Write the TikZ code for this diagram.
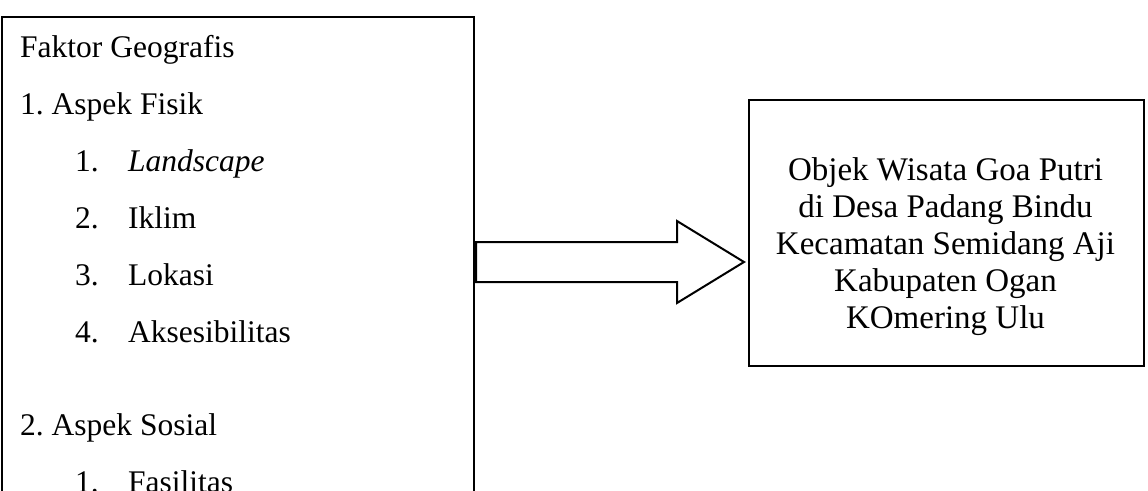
\documentclass[tikz,border=0pt]{standalone}
\usepackage{fontspec}
\setmainfont{Liberation Serif}
\frenchspacing
\begin{document}
\begin{tikzpicture}[x=1pt,y=-1pt,
  frame/.style={draw=black,line width=2pt},
  lefttext/.style={anchor=base west,inner sep=0pt,font=\fontsize{31.5}{37}\selectfont},
  righttext/.style={anchor=base,inner sep=0pt,font=\fontsize{33}{37}\selectfont}]
\useasboundingbox (0,0) rectangle (1148,490);
\clip (0,0) rectangle (1148,490);
% left box
\node[frame,rectangle,anchor=north west,minimum width=472pt,minimum height=520pt,inner sep=0pt] (left) at (1,15.5) {};
\node[lefttext] (t0) at (20,57) {Faktor Geografis};
\node[lefttext] (t1) at (20,114) {1. Aspek Fisik};
\node[lefttext] (n1) at (75,171) {1.};
\node[lefttext] (i1) at (128,171) {\textit{Landscape}};
\node[lefttext] (n2) at (75,228) {2.};
\node[lefttext] (i2) at (128,228) {Iklim};
\node[lefttext] (n3) at (75,285) {3.};
\node[lefttext] (i3) at (128,285) {Lokasi};
\node[lefttext] (n4) at (75,342) {4.};
\node[lefttext] (i4) at (128,342) {Aksesibilitas};
\node[lefttext] (t2) at (20,435) {2. Aspek Sosial};
\node[lefttext] (n5) at (75,492) {1.};
\node[lefttext] (i5) at (128,492) {Fasilitas};
% right box
\node[frame,rectangle,anchor=north west,minimum width=395pt,minimum height=266pt,inner sep=0pt] (right) at (748,99) {};
\node[righttext] (r1) at (945.5,180) {Objek Wisata Goa Putri};
\node[righttext] (r2) at (945.5,217) {di Desa Padang Bindu};
\node[righttext] (r3) at (945.5,254) {Kecamatan Semidang Aji};
\node[righttext] (r4) at (945.5,291) {Kabupaten Ogan};
\node[righttext] (r5) at (945.5,328) {KOmering Ulu};
% block arrow
\draw[line width=2pt,line join=miter] (476,242) -- (677,242) -- (677,221) -- (744,262) -- (677,303) -- (677,282) -- (476,282) -- cycle;
\end{tikzpicture}
\end{document}
